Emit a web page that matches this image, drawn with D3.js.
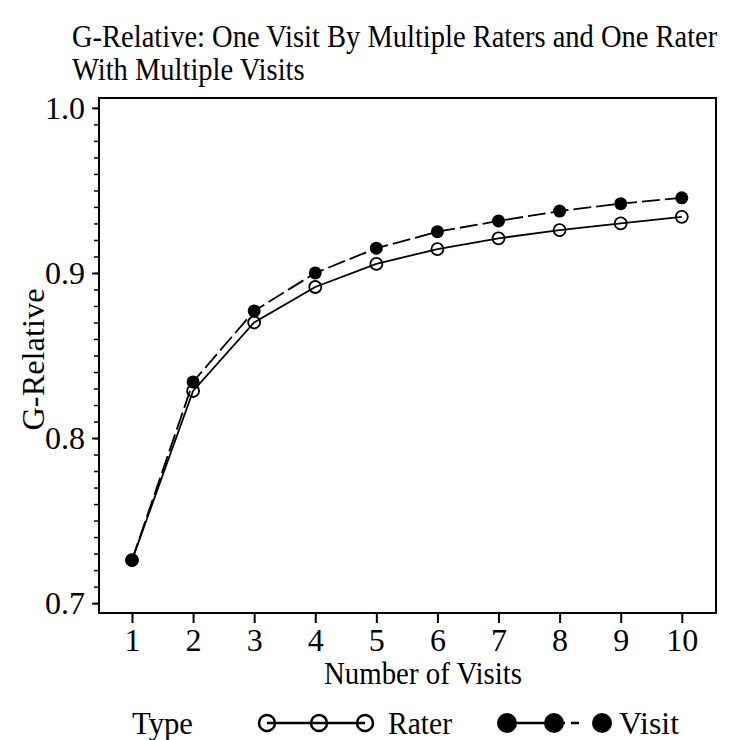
<!DOCTYPE html>
<html>
<head>
<meta charset="utf-8">
<script src="https://cdn.jsdelivr.net/npm/d3@7"></script>
<style>
  body { margin: 0; background: #fff; }
  svg { display: block; font-family: 'Liberation Serif', 'Times New Roman', serif; }
  .domain { display: none; }
</style>
</head>
<body>
<div id="chart"></div>
<script>
// Data
const visits = [1, 2, 3, 4, 5, 6, 7, 8, 9, 10];
const raterValues = [0.726, 0.8285, 0.870, 0.8915, 0.9055, 0.9145, 0.921, 0.926, 0.930, 0.934];
const visitValues = [0.726, 0.834, 0.877, 0.900, 0.915, 0.925, 0.9315, 0.9375, 0.942, 0.9455];
const yMajorTicks = [0.7, 0.8, 0.9, 1.0];
const yMinorTicks = d3.range(70, 101).map(d => d / 100);
const titleLines = ['G-Relative: One Visit By Multiple Raters and One Rater', 'With Multiple Visits'];

const width = 738;
const height = 740;
const margin = { top: 98, right: 22, bottom: 127, left: 99 };

const svg = d3.select('#chart')
  .append('svg')
  .attr('width', width)
  .attr('height', height);

const x = d3.scaleLinear().domain([0.46, 10.56]).range([margin.left, width - margin.right]);
const y = d3.scaleLinear().domain([0.694, 1.006]).range([height - margin.bottom, margin.top]);

// Title (glyphs a bit narrower than Liberation Serif, so squeeze horizontally)
svg.append('g')
  .selectAll('text')
  .data(titleLines)
  .join('text')
  .attr('transform', (d, i) => `translate(72,${47 + i * 33}) scale(0.92,1)`)
  .attr('font-size', 31)
  .text(d => d);

// Minor y ticks
svg.append('g')
  .attr('transform', `translate(${margin.left},0)`)
  .call(d3.axisLeft(y).tickValues(yMinorTicks).tickSize(5).tickFormat(''))
  .call(g => g.selectAll('line').attr('stroke', '#000').attr('stroke-width', 1.5));

// Major y ticks with labels
svg.append('g')
  .attr('transform', `translate(${margin.left},0)`)
  .call(d3.axisLeft(y).tickValues(yMajorTicks).tickSize(7).tickPadding(7).tickFormat(d3.format('.1f')))
  .call(g => g.selectAll('line').attr('stroke', '#000').attr('stroke-width', 1.8))
  .call(g => g.selectAll('text').attr('font-size', 32).attr('font-family', 'Liberation Serif').attr('fill', '#000'));

// X axis
svg.append('g')
  .attr('transform', `translate(0,${height - margin.bottom})`)
  .call(d3.axisBottom(x).tickValues(visits).tickSize(10).tickPadding(5).tickFormat(d3.format('d')))
  .call(g => g.selectAll('line').attr('stroke', '#000').attr('stroke-width', 2))
  .call(g => g.selectAll('text').attr('font-size', 32).attr('font-family', 'Liberation Serif').attr('fill', '#000'));

// Frame
svg.append('rect')
  .attr('x', margin.left)
  .attr('y', margin.top)
  .attr('width', width - margin.left - margin.right)
  .attr('height', height - margin.top - margin.bottom)
  .attr('fill', 'none')
  .attr('stroke', '#000')
  .attr('stroke-width', 2);

// Axis titles
svg.append('text')
  .attr('x', 423)
  .attr('y', 684)
  .attr('text-anchor', 'middle')
  .attr('font-size', 31)
  .attr('textLength', 198)
  .attr('lengthAdjust', 'spacingAndGlyphs')
  .text('Number of Visits');

svg.append('text')
  .attr('transform', `translate(44,${(margin.top + height - margin.bottom) / 2 + 4}) rotate(-90)`)
  .attr('text-anchor', 'middle')
  .attr('font-size', 32)
  .attr('textLength', 142)
  .attr('lengthAdjust', 'spacingAndGlyphs')
  .text('G-Relative');

// Lines
const line = d3.line().x(d => x(d[0])).y(d => y(d[1]));
const raterData = d3.zip(visits, raterValues);
const visitData = d3.zip(visits, visitValues);

svg.append('path')
  .datum(raterData)
  .attr('d', line)
  .attr('fill', 'none')
  .attr('stroke', '#000')
  .attr('stroke-width', 1.8);

svg.append('path')
  .datum(visitData)
  .attr('d', line)
  .attr('fill', 'none')
  .attr('stroke', '#000')
  .attr('stroke-width', 1.8)
  .attr('stroke-dasharray', '18,5');

svg.append('g')
  .selectAll('circle')
  .data(raterData)
  .join('circle')
  .attr('cx', d => x(d[0]))
  .attr('cy', d => y(d[1]))
  .attr('r', 6)
  .attr('fill', 'none')
  .attr('stroke', '#000')
  .attr('stroke-width', 1.8);

svg.append('g')
  .selectAll('circle')
  .data(visitData)
  .join('circle')
  .attr('cx', d => x(d[0]))
  .attr('cy', d => y(d[1]))
  .attr('r', 6.5)
  .attr('fill', '#000');

// Legend
const legendY = 723;
svg.append('text')
  .attr('x', 132)
  .attr('y', legendY + 11)
  .attr('font-size', 31)
  .attr('textLength', 61)
  .attr('lengthAdjust', 'spacingAndGlyphs')
  .text('Type');

const raterKeys = [267, 319, 365];
svg.append('line')
  .attr('x1', raterKeys[0]).attr('x2', raterKeys[2])
  .attr('y1', legendY).attr('y2', legendY)
  .attr('stroke', '#000').attr('stroke-width', 2.5);
svg.append('g')
  .selectAll('circle')
  .data(raterKeys)
  .join('circle')
  .attr('cx', d => d)
  .attr('cy', legendY)
  .attr('r', 8)
  .attr('fill', 'none')
  .attr('stroke', '#000')
  .attr('stroke-width', 2.5);
svg.append('text')
  .attr('x', 388)
  .attr('y', legendY + 11)
  .attr('font-size', 31)
  .attr('textLength', 64)
  .attr('lengthAdjust', 'spacingAndGlyphs')
  .text('Rater');

const visitKeys = [507, 554, 602];
svg.append('line')
  .attr('x1', visitKeys[0]).attr('x2', visitKeys[2])
  .attr('y1', legendY).attr('y2', legendY)
  .attr('stroke', '#000').attr('stroke-width', 2.5)
  .attr('stroke-dasharray', '58,6,8,30');
svg.append('g')
  .selectAll('circle')
  .data(visitKeys)
  .join('circle')
  .attr('cx', d => d)
  .attr('cy', legendY)
  .attr('r', 10)
  .attr('fill', '#000');
svg.append('text')
  .attr('x', 619)
  .attr('y', legendY + 11)
  .attr('font-size', 31)
  .attr('textLength', 60)
  .attr('lengthAdjust', 'spacingAndGlyphs')
  .text('Visit');
</script>
</body>
</html>
